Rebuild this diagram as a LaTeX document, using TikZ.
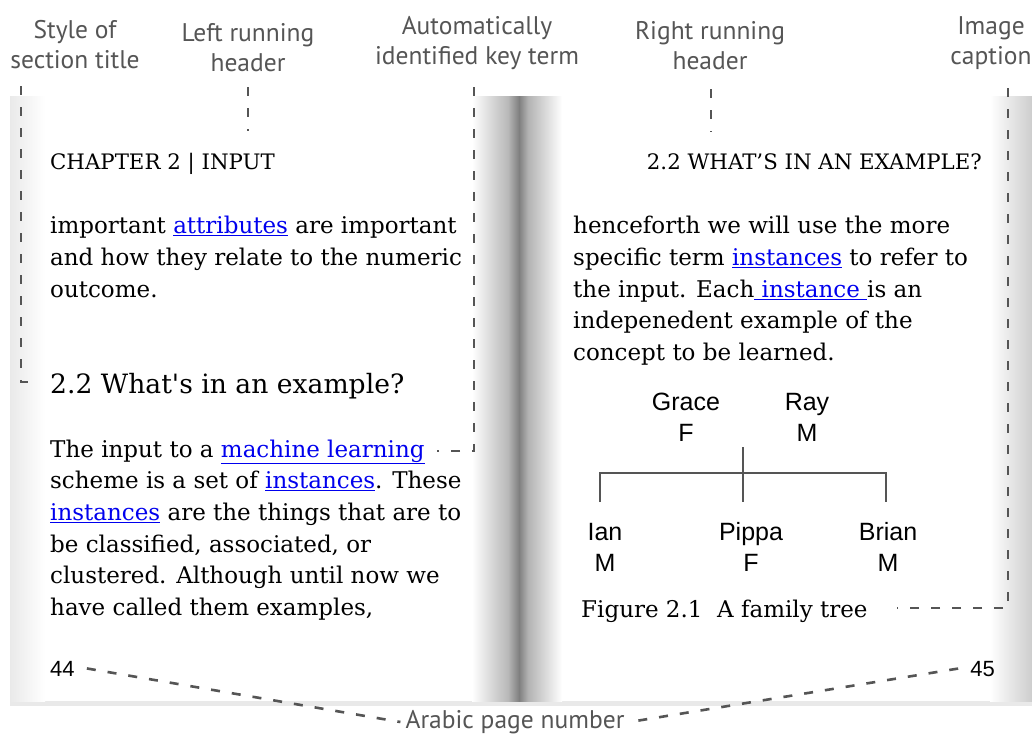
\documentclass[tikz,border=0pt]{standalone}
\usepackage{fontspec}
\setmainfont{DejaVu Serif}
\newfontfamily\lblfont{PT Sans}
\newfontfamily\arifont{Liberation Sans}
\definecolor{labgray}{HTML}{555555}
\definecolor{lnkblue}{HTML}{0000EE}
\definecolor{treegray}{HTML}{555555}
\definecolor{edgegray}{HTML}{E4E4E4}
\newcommand{\lk}[1]{{\color{lnkblue}\underline{#1}}}
\begin{document}
\begin{tikzpicture}[x=1pt,y=-1pt,
  txt/.style={anchor=base west, inner sep=0pt, font=\fontsize{23}{32}\selectfont},
  hdr/.style={inner sep=0pt, font=\fontsize{21.3}{24}\selectfont},
  lbl/.style={inner sep=0pt, align=center, text=labgray, font=\lblfont\fontsize{25.5}{30}\selectfont},
  tr/.style={inner sep=0pt, align=center, font=\arifont\fontsize{25}{31}\selectfont},
  pnum/.style={inner sep=0pt, anchor=base, font=\arifont\fontsize{22}{24}\selectfont},
  con/.style={draw=labgray, line width=2.6pt, dash pattern=on 9pt off 12pt},
  treeline/.style={draw=treegray, line width=2.8pt}]
\useasboundingbox (0,0) rectangle (1032,736);
% book pages
\fill[white] (0,0) rectangle (1032,736);
\fill[edgegray!80] (10,701) rectangle (1032,706);
\shade[left color=edgegray!80, right color=white] (10,96) rectangle (45,701);
\shade[left color=white, right color=edgegray!90!black] (990,96) rectangle (1032,701);
\shade[left color=white, right color=black!28] (472,96) rectangle (508,701);
\shade[left color=black!28, right color=black!50] (508,96) rectangle (519,701);
\shade[left color=black!50, right color=black!30] (519,96) rectangle (528,701);
\shade[left color=black!30, right color=white] (528,96) rectangle (562,701);

% labels
\node[lbl] (lstyle) at (75,45) {Style of\\section title};
\node[lbl] (lleft) at (248,48) {Left running\\header};
\node[lbl] (lkey) at (477,43) {Automatically\\identified key term};
\node[lbl] (lright) at (710,46) {Right running\\header};
\node[lbl] (lcap) at (991,43) {Image\\caption};
\node[lbl, anchor=center] (larab) at (515,722) {Arabic page number};

% headers
\node[hdr, anchor=base west] (hleft) at (50,169) {CHAPTER 2 | INPUT};
\node[hdr, anchor=base east] (hright) at (982,169) {2.2 WHAT’S IN AN EXAMPLE?};

% left page
\node[txt] (l1) at (50,233) {important \lk{attributes} are important};
\node[txt] (l2) at (50,265) {and how they relate to the numeric};
\node[txt] (l3) at (50,297) {outcome.};
\node[txt, font=\fontsize{26.6}{32}\selectfont] (sec) at (50,393) {2.2 What\textquotesingle s in an example?};
\node[txt] (p1) at (50,457) {The input to a \lk{machine learning}};
\node[txt] (p2) at (50,488) {scheme is a set of \lk{instances}. These};
\node[txt] (p3) at (50,520) {\lk{instances} are the things that are to};
\node[txt] (p4) at (50,552) {be classified, associated, or};
\node[txt] (p5) at (50,583) {clustered. Although until now we};
\node[txt] (p6) at (50,615) {have called them examples,};

% right page
\node[txt] (r1) at (573,233) {henceforth we will use the more};
\node[txt] (r2) at (573,265) {specific term \lk{instances} to refer to};
\node[txt] (r3) at (573,297) {the input. Each\lk{~instance~}is an};
\node[txt] (r4) at (573,328) {indepenedent example of the};
\node[txt] (r5) at (573,360) {concept to be learned.};

% family tree
\node[tr] (grace) at (686,417) {Grace\\F};
\node[tr] (ray) at (807,417) {Ray\\M};
\node[tr] (ian) at (605,547) {Ian\\M};
\node[tr] (pippa) at (751,547) {Pippa\\F};
\node[tr] (brian) at (888,547) {Brian\\M};
\coordinate (tj) at (743,447);
\coordinate (tl) at (600,473);
\coordinate (tr) at (886,473);
\coordinate (tlb) at (600,502);
\coordinate (tcb) at (743,502);
\coordinate (trb) at (886,502);
\draw[treeline] (tj) -- (tcb);
\draw[treeline] (tlb) -- (tl) -- (tr) -- (trb);
\node[txt, anchor=base west] (cap) at (581,617) {Figure 2.1\ \ A family tree};

% page numbers
\node[pnum, anchor=base west] (n44) at (50,676) {44};
\node[pnum, anchor=base east] (n45) at (995,676) {45};

% connectors
\coordinate (c1a) at (21,86);
\coordinate (c1b) at (35,382);
\draw[con] (c1a) |- (c1b);
\coordinate (c2a) at (248,87);
\coordinate (c2b) at (248,131);
\draw[con] (c2a) -- (c2b);
\coordinate (c3a) at (474,87);
\coordinate (c3b) at (437,451);
\draw[con] (c3a) |- (c3b);
\coordinate (c4a) at (711,89);
\coordinate (c4b) at (711,132);
\draw[con] (c4a) -- (c4b);
\coordinate (c5a) at (1008,88);
\coordinate (c5b) at (897,608);
\draw[con] (c5a) |- (c5b);
\draw[con] ([xshift=12pt]n44.east) -- ([xshift=-5pt]larab.west);
\draw[con] ([xshift=-12pt]n45.west) -- ([xshift=5pt]larab.east);
\end{tikzpicture}
\end{document}
